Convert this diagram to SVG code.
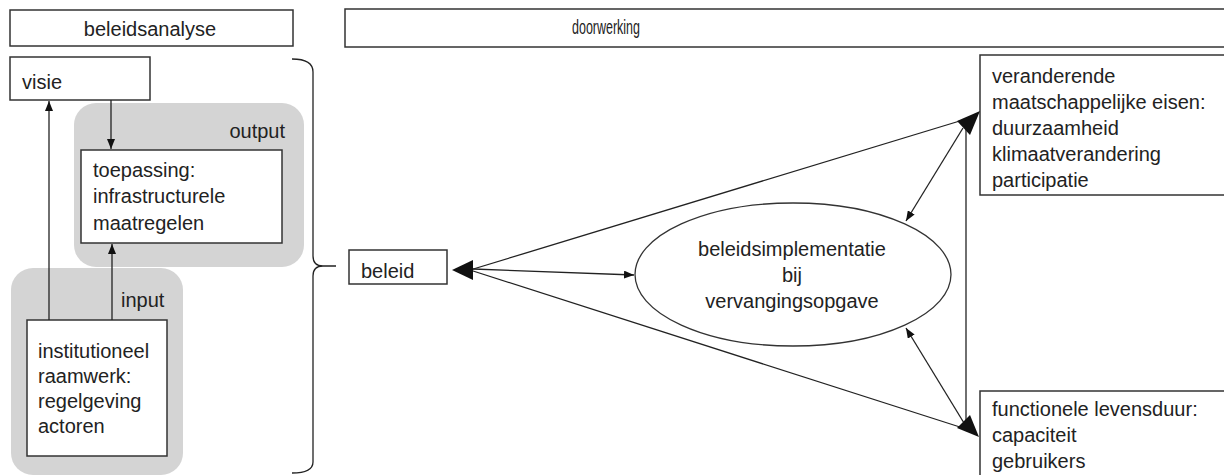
<svg xmlns="http://www.w3.org/2000/svg" width="1224" height="475" viewBox="0 0 1224 475">
<style>
.box{fill:#fff;stroke:#333;stroke-width:1.5}
.grp{fill:#d4d4d4;stroke:none}
.t{font-family:"Liberation Sans",Arial,sans-serif;font-size:20px;fill:#222}
.c{text-anchor:middle}
.ln{stroke:#222;stroke-width:1.3;fill:none}
.ah{fill:#111;stroke:none}
</style>
<defs>
<marker id="sm" viewBox="0 0 10 8" refX="10" refY="4" markerWidth="10" markerHeight="8" markerUnits="userSpaceOnUse" orient="auto">
<path d="M0,0 L10,4 L0,8 z" fill="#111"/>
</marker>
</defs>
<rect width="1224" height="475" fill="#fff"/>

<g id="header-beleidsanalyse">
<rect class="box" x="10" y="10" width="283" height="36"/>
<text class="t c" x="150" y="36">beleidsanalyse</text>
</g>
<g id="header-doorwerking">
<rect class="box" x="345" y="9" width="900" height="38"/>
<text class="t" x="572" y="34" textLength="68" lengthAdjust="spacingAndGlyphs">doorwerking</text>
</g>

<g id="output-group">
<rect class="grp" x="74" y="103" width="230" height="164" rx="22"/>
<text class="t" x="285" y="138" text-anchor="end">output</text>
</g>
<g id="input-group">
<rect class="grp" x="11" y="268" width="172" height="207" rx="22"/>
<text class="t" x="121" y="307">input</text>
</g>

<g id="visie">
<rect class="box" x="10" y="57" width="140" height="43"/>
<text class="t" x="22" y="89">visie</text>
</g>
<g id="toepassing">
<rect class="box" x="81" y="150" width="201" height="93"/>
<text class="t" x="93" y="177">toepassing:</text>
<text class="t" x="93" y="203">infrastructurele</text>
<text class="t" x="93" y="230">maatregelen</text>
</g>
<g id="institutioneel">
<rect class="box" x="27" y="320" width="140" height="136"/>
<text class="t" x="38" y="358">institutioneel</text>
<text class="t" x="38" y="383">raamwerk:</text>
<text class="t" x="38" y="408">regelgeving</text>
<text class="t" x="38" y="433">actoren</text>
</g>

<g id="brace">
<path class="ln" stroke="#444" d="M292,59 Q313,59 313,72 L313,256 Q313,266 323,266 L336,266 M323,266 Q313,266 313,276 L313,462 Q313,473 292,473"/>
</g>

<g id="beleid">
<rect class="box" x="349" y="250" width="98" height="34"/>
<text class="t" x="361" y="278">beleid</text>
</g>

<g id="beleidsimplementatie">
<ellipse cx="793" cy="274.5" rx="158" ry="71.5" fill="#fff" stroke="#333" stroke-width="1.3"/>
<text class="t c" x="792" y="256">beleidsimplementatie</text>
<text class="t c" x="792" y="282">bij</text>
<text class="t c" x="792" y="308">vervangingsopgave</text>
</g>

<g id="maatschappelijke-eisen">
<rect class="box" x="980" y="55" width="260" height="140"/>
<text class="t" x="992" y="83">veranderende</text>
<text class="t" x="992" y="109">maatschappelijke eisen:</text>
<text class="t" x="992" y="135">duurzaamheid</text>
<text class="t" x="992" y="161">klimaatverandering</text>
<text class="t" x="992" y="187">participatie</text>
</g>

<g id="functionele-levensduur">
<rect class="box" x="980" y="391" width="260" height="100"/>
<text class="t" x="992" y="416">functionele levensduur:</text>
<text class="t" x="992" y="442">capaciteit</text>
<text class="t" x="992" y="468">gebruikers</text>
</g>

<g id="connectors">
<line class="ln" x1="49" y1="320" x2="49" y2="101" marker-end="url(#sm)"/>
<line class="ln" x1="111" y1="100" x2="111" y2="149" marker-end="url(#sm)"/>
<line class="ln" x1="112" y1="320" x2="112" y2="244" marker-end="url(#sm)"/>

<line class="ln" x1="470" y1="270" x2="963" y2="120"/>
<line class="ln" x1="470" y1="270" x2="963" y2="428"/>
<line class="ln" x1="473" y1="269" x2="634" y2="275" marker-end="url(#sm)"/>
<line class="ln" x1="963" y1="128" x2="906" y2="221" marker-end="url(#sm)"/>
<line class="ln" x1="964" y1="423" x2="906" y2="328" marker-end="url(#sm)"/>
<line class="ln" stroke="#555" stroke-width="1.8" x1="966" y1="123" x2="966" y2="423"/>

<polygon class="ah" points="452,270 473,260 473,280"/>
<polygon class="ah" points="980,111 957,121 970,135"/>
<polygon class="ah" points="979,437 957,428 970,415"/>
</g>
</svg>
